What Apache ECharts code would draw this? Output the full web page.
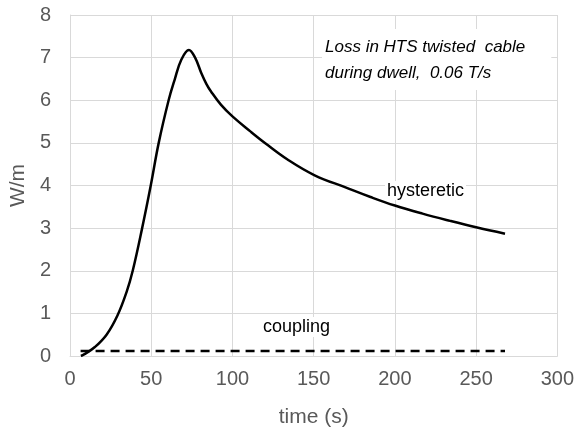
<!DOCTYPE html>
<html>
<head>
<meta charset="utf-8">
<script src="https://cdn.jsdelivr.net/npm/echarts@6/dist/echarts.min.js"></script>
<style>
  html, body { margin: 0; padding: 0; background: #fff; }
  #main { width: 577px; height: 433px; }
</style>
</head>
<body>
<div id="main"></div>
<script>
// hysteretic loss
var hystTime = [6.7, 9.2, 15.3, 22.5, 29.2, 34.8, 38.6, 44.4, 49.7, 54.6, 60.7, 64.4, 68.5, 73.2, 77, 80.8, 84, 86.9, 93, 100, 111, 120.6, 133.9, 150.6, 170, 185, 200, 217, 234, 250, 267.8];
var hystLoss = [0.0, 0.05, 0.21, 0.5, 0.95, 1.5, 2.0, 3.0, 4.0, 5.0, 6.0, 6.48, 6.95, 7.18, 7.0, 6.64, 6.38, 6.2, 5.89, 5.62, 5.27, 4.98, 4.61, 4.24, 3.95, 3.73, 3.53, 3.34, 3.17, 3.02, 2.87];

// coupling loss (flat)
var coupTime = [6.5, 267.8];
var coupLoss = [0.12, 0.12];

var xTicks = [0, 50, 100, 150, 200, 250, 300];

function pairs(xs, ys) {
    var out = [];
    for (var i = 0; i < xs.length; i++) out.push([xs[i], ys[i]]);
    return out;
}

var font = '"Liberation Sans", Arial, sans-serif';
var gridColor = '#d9d9d9';
var labelColor = '#595959';

var chart = echarts.init(document.getElementById('main'));
chart.setOption({
    animation: false,
    grid: { left: 68, right: 19, top: 15, bottom: 76, containLabel: false },
    xAxis: {
        type: 'value',
        min: xTicks[0],
        max: xTicks[xTicks.length - 1],
        interval: 50,
        name: 'time (s)',
        nameLocation: 'middle',
        nameGap: 51,
        nameTextStyle: { fontFamily: font, fontSize: 21, color: labelColor },
        axisLine: { show: true, lineStyle: { color: gridColor, width: 1 } },
        axisTick: { show: false },
        axisLabel: { fontFamily: font, fontSize: 20, color: labelColor, margin: 13 },
        splitLine: { show: true, lineStyle: { color: gridColor, width: 1 } }
    },
    yAxis: {
        type: 'value',
        min: 0,
        max: 8,
        interval: 1,
        name: 'W/m',
        nameLocation: 'middle',
        nameGap: 37,
        nameRotate: 90,
        nameTextStyle: { fontFamily: font, fontSize: 21, color: labelColor },
        axisLine: { show: true, lineStyle: { color: gridColor, width: 1 } },
        axisTick: { show: false },
        axisLabel: { fontFamily: font, fontSize: 20, color: labelColor, margin: 19 },
        splitLine: { show: true, lineStyle: { color: gridColor, width: 1 } }
    },
    series: [
        {
            name: 'hysteretic',
            type: 'line',
            z: 3,
            data: pairs(hystTime, hystLoss),
            smooth: 0.4,
            showSymbol: false,
            lineStyle: { color: '#000', width: 2.5 }
        },
        {
            name: 'coupling',
            type: 'line',
            z: 3,
            data: pairs(coupTime, coupLoss),
            showSymbol: false,
            lineStyle: { color: '#000', width: 2.5, type: [9, 6] }
        }
    ],
    // text boxes with white fill, drawn over the grid but under the curves
    graphic: [
        {
            type: 'text', left: 322, top: 29, z: 1,
            style: {
                text: 'Loss in HTS twisted  cable\nduring dwell,  0.06 T/s',
                font: 'italic 17px ' + font, fill: '#000', lineHeight: 26,
                backgroundColor: '#fff', padding: [5, 26, 4, 3]
            }
        },
        {
            type: 'text', left: 385, top: 181, z: 1,
            style: {
                text: 'hysteretic', font: '18px ' + font, fill: '#000',
                backgroundColor: '#fff', padding: [1, 2, 0, 2]
            }
        },
        {
            type: 'text', left: 261, top: 317, z: 1,
            style: {
                text: 'coupling', font: '18px ' + font, fill: '#000',
                backgroundColor: '#fff', padding: [1, 2, 1, 2]
            }
        }
    ]
});
</script>
</body>
</html>
